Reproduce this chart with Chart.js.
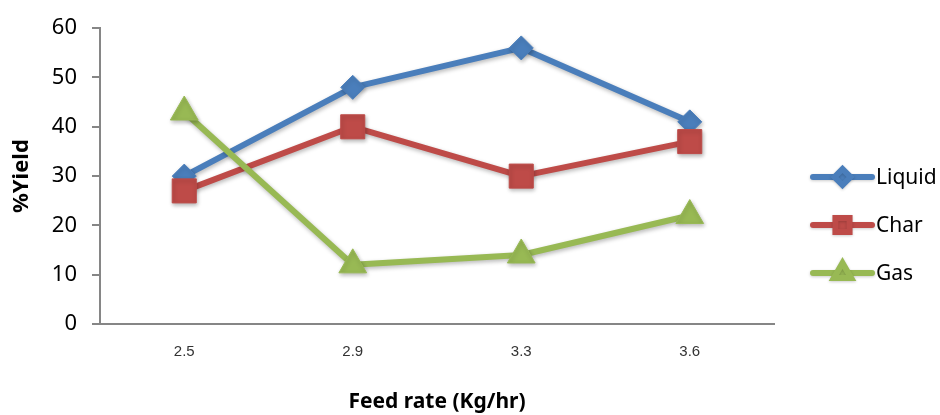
<!DOCTYPE html>
<html>
<head>
<meta charset="utf-8">
<script src="https://cdn.jsdelivr.net/npm/chart.js@4/dist/chart.umd.min.js"></script>
<style>
  html, body { margin: 0; padding: 0; background: #ffffff; }
  #wrap { width: 940px; height: 415px; }
</style>
</head>
<body>
<div id="wrap"><canvas id="c" width="940" height="415"></canvas></div>
<script>
const categories = ['2.5', '2.9', '3.3', '3.6'];
const liquid = [30, 48, 56, 41];
const charYield = [27, 40, 30, 37];
const gas = [43, 12, 14, 22];
const seriesNames = ['Liquid', 'Char', 'Gas'];
const yTicks = [0, 10, 20, 30, 40, 50, 60];

const colors = ['#4A7EBB', '#BE4B48', '#98B954'];
const styles = ['rectRot', 'rect', 'triangle'];
const radii = [12, 17, 16];
const legendRadii = [8, 10, 10];

const shadowPlugin = {
  id: 'shadow',
  beforeDatasetsDraw(chart) {
    const ctx = chart.ctx;
    ctx.save();
    ctx.shadowColor = 'rgba(0,0,0,0.28)';
    ctx.shadowBlur = 4;
    ctx.shadowOffsetX = 1;
    ctx.shadowOffsetY = 2;
  },
  afterDatasetsDraw(chart) {
    chart.ctx.restore();
  }
};

const legendPlugin = {
  id: 'customLegend',
  afterDraw(chart) {
    const ctx = chart.ctx;
    const x0 = 813, x1 = 872, textX = 876;
    const ys = [177, 225, 273];
    chart.data.datasets.forEach((ds, i) => {
      const y = ys[i];
      ctx.save();
      ctx.shadowColor = 'rgba(0,0,0,0.2)';
      ctx.shadowBlur = 3;
      ctx.shadowOffsetY = 1;
      ctx.strokeStyle = ds.borderColor;
      ctx.lineWidth = 6;
      ctx.lineCap = 'round';
      ctx.beginPath();
      ctx.moveTo(x0, y);
      ctx.lineTo(x1, y);
      ctx.stroke();
      ctx.fillStyle = ds.borderColor;
      ctx.strokeStyle = ds.borderColor;
      Chart.helpers.drawPoint(ctx, {
        pointStyle: ds.pointStyle,
        radius: legendRadii[i],
        rotation: 0,
        borderWidth: 1
      }, (x0 + x1) / 2, y);
      ctx.restore();
      ctx.save();
      ctx.fillStyle = '#000000';
      ctx.font = '21px "Noto Sans", "Liberation Sans", sans-serif';
      ctx.textBaseline = 'middle';
      ctx.textAlign = 'left';
      ctx.fillText(ds.label, textX, y + 1);
      ctx.restore();
    });
  }
};

const seriesData = [liquid, charYield, gas];
const datasets = seriesData.map((d, i) => ({
  label: seriesNames[i],
  data: d,
  borderColor: colors[i],
  backgroundColor: colors[i],
  borderWidth: 6,
  borderCapStyle: 'round',
  borderJoinStyle: 'round',
  tension: 0,
  pointStyle: styles[i],
  pointRadius: radii[i],
  pointHoverRadius: radii[i],
  pointBackgroundColor: colors[i],
  pointBorderColor: colors[i],
  pointBorderWidth: 1,
  order: 3 - i,
  clip: false
}));

new Chart(document.getElementById('c'), {
  type: 'line',
  data: { labels: categories, datasets },
  plugins: [shadowPlugin, legendPlugin],
  options: {
    responsive: false,
    devicePixelRatio: 1,
    animation: false,
    events: [],
    layout: { padding: { left: 0, right: 166, top: 25, bottom: 0 } },
    plugins: {
      legend: { display: false },
      tooltip: { enabled: false },
      title: { display: false }
    },
    scales: {
      x: {
        type: 'category',
        offset: true,
        grid: { display: true, drawOnChartArea: false, drawTicks: false, color: '#868686' },
        border: { display: true, color: '#868686', width: 2 },
        ticks: {
          padding: 19,
          color: '#333333',
          font: { family: '"Liberation Sans Narrow", "Liberation Sans", sans-serif', size: 15 }
        },
        title: {
          display: true,
          text: 'Feed rate (Kg/hr)',
          color: '#000000',
          font: { family: '"Noto Sans", "Liberation Sans", sans-serif', size: 21, weight: 'bold' },
          padding: { top: 0, bottom: 0 }
        },
        afterFit(scale) { scale.height = 91; }
      },
      y: {
        min: 0,
        max: 60,
        afterBuildTicks(scale) { scale.ticks = yTicks.map(v => ({ value: v })); },
        grid: { display: true, drawOnChartArea: false, drawTicks: true, tickLength: 8, color: '#868686', lineWidth: 2 },
        border: { display: true, color: '#868686', width: 2 },
        ticks: {
          padding: 15,
          color: '#000000',
          font: { family: '"Noto Sans", "Liberation Sans", sans-serif', size: 22 }
        },
        title: {
          display: true,
          text: '%Yield',
          color: '#000000',
          font: { family: '"Noto Sans", "Liberation Sans", sans-serif', size: 22, weight: 'bold' },
          padding: { top: 9, bottom: 0 }
        },
        afterFit(scale) { scale.width = 100; }
      }
    }
  }
});
</script>
</body>
</html>
